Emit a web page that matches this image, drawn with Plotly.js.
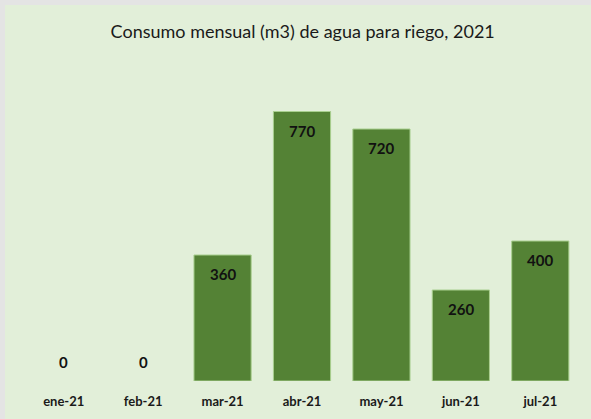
<!DOCTYPE html>
<html>
<head>
<meta charset="utf-8">
<script src="https://cdn.plot.ly/plotly-3.0.1.min.js"></script>
<style>
html, body { margin: 0; padding: 0; background: #e4e4e4; width: 591px; height: 419px; overflow: hidden; }
#chart { position: absolute; left: 5px; top: 5px; width: 586px; height: 414px; }
</style>
</head>
<body>
<div id="chart"></div>
<script>
const months = ["ene-21", "feb-21", "mar-21", "abr-21", "may-21", "jun-21", "jul-21"];
const consumo = [0, 0, 360, 770, 720, 260, 400];
const titulo = "Consumo mensual (m3) de agua para riego, 2021";

const FONT = "Lato, 'Open Sans', sans-serif";

const data = [
  {
    type: "bar",
    x: months,
    y: consumo,
    marker: {
      color: "#548235",
      line: { color: "#a9cf8f", width: consumo.map(v => v > 0 ? 1 : 0) }
    },
    hoverinfo: "x+y"
  }
];

const annotations = months.map((m, i) => ({
  x: m,
  y: consumo[i],
  xref: "x",
  yref: "y",
  text: String(consumo[i]),
  showarrow: false,
  yanchor: "middle",
  xanchor: "center",
  yshift: consumo[i] > 0 ? -19 : 19,
  font: { family: FONT, size: 15, color: "#111111", weight: "bold" }
}));

const layout = {
  width: 586,
  height: 414,
  paper_bgcolor: "#e2efd9",
  plot_bgcolor: "#e2efd9",
  showlegend: false,
  margin: { l: 19, r: 11, t: 61, b: 38 },
  bargap: 0.28,
  annotations: annotations,
  title: {
    text: titulo,
    font: { family: FONT, size: 18, color: "#1a1a1a" },
    x: 0.508, xanchor: "center",
    y: 0.935, yanchor: "middle"
  },
  xaxis: {
    showgrid: false, zeroline: false, showline: false,
    ticks: "", ticklabelstandoff: 11,
    tickfont: { family: FONT, size: 13, color: "#1a1a1a", weight: "bold" }
  },
  yaxis: {
    range: [0, 900], visible: false, showgrid: false, zeroline: false
  }
};

Plotly.newPlot("chart", data, layout, { displayModeBar: false, staticPlot: true });
</script>
</body>
</html>
